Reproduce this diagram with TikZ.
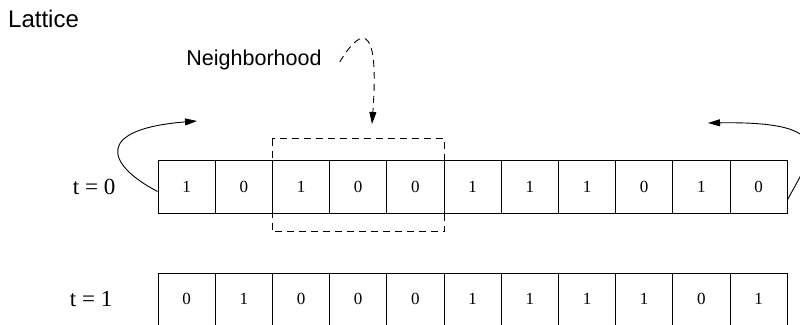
\documentclass[tikz,border=0pt]{standalone}
\usepackage{fontspec}
\setmainfont{Liberation Serif}
\setsansfont{Liberation Sans}
\usepackage{xcolor}
\usepackage{tikz}
\usetikzlibrary{positioning, arrows.meta, calc}

\begin{document}
\begin{tikzpicture}[x=1pt, y=1pt,
    cell/.style={draw, line width=0.9pt, minimum width=57.2pt, minimum height=53pt,
                 inner sep=0pt, font=\fontsize{17}{20}\selectfont},
    timelabel/.style={font=\fontsize{23}{28}\selectfont, inner sep=0pt},
    sanslabel/.style={font=\sffamily\fontsize{21.5}{26}\selectfont, inner sep=0pt},
    wrap/.style={line width=0.9pt, -{Triangle[length=12pt, width=7pt]}}]
    \useasboundingbox (0,0) rectangle (800,324);
    \foreach \v [count=\i] in {1,0,1,0,0,1,1,1,0,1,0}
      \node[cell] (a\i) at ({158+57.2*(\i-0.5)}, 137.5) {\v};
    \foreach \v [count=\i] in {0,1,0,0,0,1,1,1,1,0,1}
      \node[cell, minimum height=52pt] (b\i) at ({158+57.2*(\i-0.5)}, 25) {\v};
    \node[timelabel, left=42pt of a1] (t0) {t = 0};
    \node[timelabel, left=45pt of b1] (t1) {t = 1};
    \node[sanslabel, anchor=west, font=\sffamily\fontsize{24}{28}\selectfont] (lattice) at (8,305) {Lattice};
    \node[sanslabel] (nbhdlabel) at (254,264) {Neighborhood};
    \draw[dashed, dash pattern=on 7pt off 5pt, line width=0.9pt]
      ($(a3.north west)+(0,21)$) rectangle ($(a5.south east)+(0,-18)$);
    \coordinate (nbhdtip) at (372,200);
    \draw[wrap, dashed, dash pattern=on 7pt off 5pt]
      ($(nbhdlabel.east)+(18,-2)$) .. controls +(18,30) and (380,310) .. (nbhdtip);
    \coordinate (lefttip) at (197,203);
    \coordinate (righttip) at (708,201);
    \draw[wrap] ($(a1.west)+(0,-5)$) .. controls (105,160) and (95,195) .. (lefttip);
    \draw[wrap] ($(a11.east)+(0,-13)$) .. controls (812,170) and (840,203) .. (righttip);
\end{tikzpicture}
\end{document}
